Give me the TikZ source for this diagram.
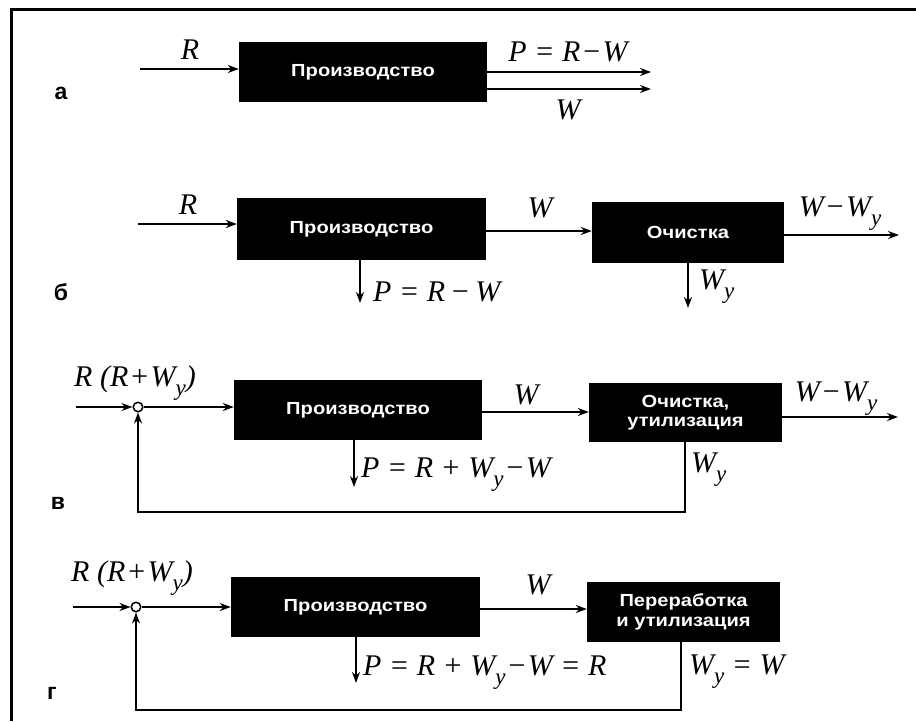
\documentclass[tikz,border=0pt]{standalone}
\usepackage{fontspec}
\setmainfont{Liberation Serif}
\setsansfont{Liberation Sans}
\newfontfamily\boxfont[FakeStretch=1.15]{Liberation Sans}
\usetikzlibrary{positioning,arrows.meta}

% subscript y
\newcommand{\sy}{\raisebox{-0.3em}{\fontsize{23}{23}\selectfont y}}

\tikzset{
  proc/.style={fill=black, text=white, inner sep=0pt, align=center,
    font=\boxfont\bfseries\fontsize{17.5}{19.5}\selectfont},
  lbl/.style={font=\fontsize{30}{30}\selectfont\itshape, inner sep=1pt},
  panel/.style={font=\sffamily\bfseries\fontsize{23}{23}\selectfont},
  flow/.style={-{Stealth[length=11pt,width=8pt]}, line width=1.7pt},
  junc/.style={circle, draw, line width=1.5pt, minimum size=9.5pt, inner sep=0pt}
}

\begin{document}
\begin{tikzpicture}[x=1pt, y=-1pt]
    \useasboundingbox (0,0) rectangle (916,721);
    % Frame
    \draw[line width=3pt] (916,9.5) -- (11,9.5) -- (11,721);

    % a
    \node[panel] (na) at (61,93) {а};
    \node[proc, minimum width=248pt, minimum height=60pt] (pa) at (363,72) {Производство};
    \coordinate (ina) at (140,69);
    \coordinate (oa1) at (651,72);
    \coordinate (oa2) at (651,89);
    \draw[flow] (ina) -- (ina -| pa.west);
    \draw[flow] (oa1 -| pa.east) -- (oa1);
    \draw[flow] (oa2 -| pa.east) -- (oa2);
    \node[lbl] (ra) at (190,50) {R};
    \node[lbl] (pla) at (568,52) {P = R\kern1pt−\kern1ptW};
    \node[lbl] (wa) at (568,110) {W};

    % b
    \node[panel] (nb) at (61,292) {б};
    \node[proc, minimum width=249pt, minimum height=62pt] (pb1) at (361.5,229) {Производство};
    \node[proc, minimum width=192pt, minimum height=61pt] (pb2) at (688,232.5) {Очистка};
    \coordinate (inb) at (138,224);
    \coordinate (mb) at (540,231);
    \coordinate (ob) at (899,235);
    \coordinate (db1) at (360,303);
    \coordinate (db2) at (688,308);
    \draw[flow] (inb) -- (inb -| pb1.west);
    \draw[flow] (mb -| pb1.east) -- (mb -| pb2.west);
    \draw[flow] (ob -| pb2.east) -- (ob);
    \draw[flow] (db1 |- pb1.south) -- (db1);
    \draw[flow] (db2 |- pb2.south) -- (db2);
    \node[lbl] (rb) at (188,205) {R};
    \node[lbl] (wb) at (540,208) {W};
    \node[lbl] (owb) at (840,214) {W\kern1pt−\kern1ptW\sy};
    \node[lbl, anchor=west] (plb) at (372,292) {P = R\,−\,W};
    \node[lbl, anchor=west] (wyb) at (698,287) {W\sy};

    % v
    \node[panel] (nv) at (58,503) {в};
    \node[junc] (cv) at (138,407) {};
    \node[proc, minimum width=248pt, minimum height=60pt] (pv1) at (358,410) {Производство};
    \node[proc, minimum width=193pt, minimum height=59pt] (pv2) at (685.5,412.5) {Очистка,\\утилизация};
    \coordinate (inv) at (76,407);
    \coordinate (mv) at (526,412);
    \coordinate (ov) at (898,417);
    \coordinate (dv) at (354,487);
    \coordinate (fbv) at (685,512);
    \draw[flow] (inv) -- (cv.west);
    \draw[flow] (cv.east) -- (cv.east -| pv1.west);
    \draw[flow] (mv -| pv1.east) -- (mv -| pv2.west);
    \draw[flow] (ov -| pv2.east) -- (ov);
    \draw[flow] (dv |- pv1.south) -- (dv);
    \draw[flow] (fbv |- pv2.south) -- (fbv) -| (cv.south);
    \node[lbl, anchor=west] (rv) at (73,383) {R (R\kern1pt+\kern1ptW\sy)};
    \node[lbl] (wv) at (526,395) {W};
    \node[lbl] (owv) at (836,399) {W\kern1pt−\kern1ptW\sy};
    \node[lbl, anchor=west] (plv) at (360,475) {P = R + W\sy\kern1pt−\kern1ptW};
    \node[lbl, anchor=west] (wyv) at (690,470) {W\sy};

    % g
    \node[panel] (ng) at (52,693) {г};
    \node[junc] (cg) at (136,607) {};
    \node[proc, minimum width=249pt, minimum height=60pt] (pg1) at (355.5,607) {Производство};
    \node[proc, minimum width=193pt, minimum height=60pt] (pg2) at (683.5,612) {Переработка\\и утилизация};
    \coordinate (ing) at (73,607);
    \coordinate (mg) at (538,609);
    \coordinate (dg) at (356,683);
    \coordinate (fbg) at (681,710);
    \draw[flow] (ing) -- (cg.west);
    \draw[flow] (cg.east) -- (cg.east -| pg1.west);
    \draw[flow] (mg -| pg1.east) -- (mg -| pg2.west);
    \draw[flow] (dg |- pg1.south) -- (dg);
    \draw[flow] (fbg |- pg2.south) -- (fbg) -| (cg.south);
    \node[lbl, anchor=west] (rg) at (70,578) {R (R\kern1pt+\kern1ptW\sy)};
    \node[lbl] (wg) at (538,585) {W};
    \node[lbl, anchor=west] (plg) at (362,673) {P = R + W\sy\kern1pt−\kern1ptW = R};
    \node[lbl, anchor=west] (wyg) at (688,672) {W\sy\ = W};
\end{tikzpicture}
\end{document}
